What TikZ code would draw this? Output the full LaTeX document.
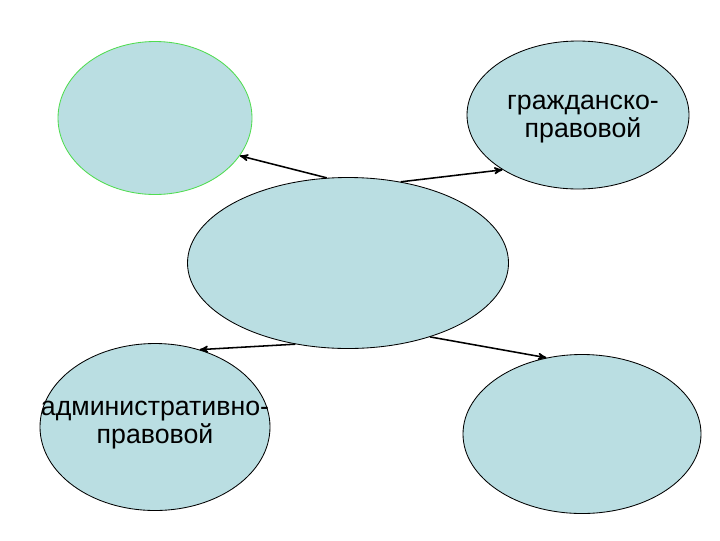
\documentclass[tikz,border=0pt]{standalone}
\usepackage{fontspec}
\setmainfont{Liberation Sans}
\usetikzlibrary{arrows,shapes.geometric}
\definecolor{oval}{RGB}{186,222,226}
\definecolor{rim}{RGB}{80,220,80}
\tikzset{
    >=stealth',
    kreis/.style={
           ellipse,
           draw=black, line width=0.6pt,
           fill=oval,
           inner sep=0pt},
    schrift/.style={
           align=center,
           inner sep=0pt,
           font=\fontsize{19}{20.5}\selectfont},
    pil/.style={
           ->,
           line width=1.1pt}
}

\begin{document}
\begin{tikzpicture}[x=0.025cm,y=-0.025cm]
        \useasboundingbox (0,0) rectangle (720,540);
        \node[kreis, draw=rim, minimum width=194*0.025cm, minimum height=153*0.025cm] (lo) at (155,118) {};
        \node[kreis, minimum width=222*0.025cm, minimum height=148*0.025cm] (ro) at (578,115) {};
        \node[kreis, minimum width=321*0.025cm, minimum height=171*0.025cm] (mid) at (348,263) {};
        \node[kreis, minimum width=230*0.025cm, minimum height=167*0.025cm] (lu) at (155,427) {};
        \node[kreis, minimum width=238*0.025cm, minimum height=159*0.025cm] (ru) at (582,434) {};
        \node[schrift] (rotext) at (583,119) {гражданско-\\правовой};
        \node[schrift] (lutext) at (155,425) {административно-\\правовой};
        \draw[pil] (mid.104) -- (lo.-24);
        \draw[pil] (mid.57) -- (ro.216);
        \draw[pil] (mid.237) -- (lu.60);
        \draw[pil] (mid.-42) -- (ru.115);
    \end{tikzpicture}
\end{document}
